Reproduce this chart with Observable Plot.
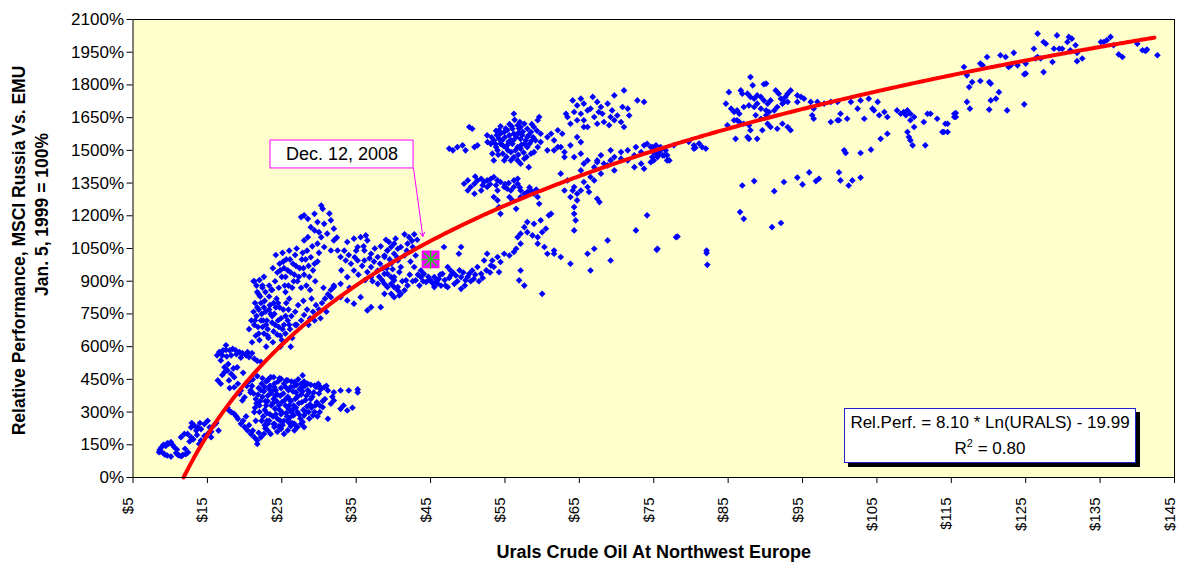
<!DOCTYPE html>
<html>
<head>
<meta charset="utf-8">
<script src="https://cdn.jsdelivr.net/npm/d3@7"></script>
<script src="https://cdn.jsdelivr.net/npm/@observablehq/plot@0.6"></script>
<style>
  html, body { margin: 0; padding: 0; background: #fff; }
  #wrap { position: relative; width: 1181px; height: 563px; font-family: "Liberation Sans", Arial, sans-serif; }
  #legend { position: absolute; left: 844px; top: 408px; width: 292px; height: 55px; box-sizing: border-box;
    background: #fff; border: 1px solid #2222cc; box-shadow: 4px 4px 0 #000; text-align: center;
    font-size: 17px; line-height: 25.5px; padding-top: 1px; color: #000; }
  #legend sup { font-size: 11px; line-height: 0; vertical-align: 7px; }
</style>
</head>
<body>
<div id="wrap"></div>
<script>
// ---- Tick values ----
const xTicks = [5, 15, 25, 35, 45, 55, 65, 75, 85, 95, 105, 115, 125, 135, 145];
const yTicks = [0, 150, 300, 450, 600, 750, 900, 1050, 1200, 1350, 1500, 1650, 1800, 1950, 2100];

// ---- Trend line (from chart's equation box) ----
const trendA = 8.10, trendB = -19.99, trendStart = 11.8, trendEnd = 142.5;

// ---- Annotation ----
const markerPoint = { x: 45, y: 1000 };
const noteText = "Dec. 12, 2008";

// ---- Scatter points: "urals$,relPerf%" pairs ----
const lowCluster = `8.5,116 8.6,127 8.8,138 9.1,150 9.6,157 9.8,155 10.1,162 10.3,150 10.55,139 10.8,112 11.2,101 11.7,104 12.1,107 9.1,110 9.3,105 9.6,101 10.1,96 11,105 8.7,120 9.4,145 10.9,128 11.5,98 12.4,115 12,132 11.45,185 11.9,200 12.8,230 13.24,238 13.7,230 14.14,222 14.6,245 15.03,260 15.5,185 12.8,185 12.34,200 15.03,200 14.14,170 13.9,154 15.5,210 15.9,240 13.5,215 12.6,165 13.1,175 14.6,190 15.3,230 16.2,250 14,250 16.5,215 12.9,250 13.6,195`;

const clusterB = `16.6,575 17.1,583 17.5,585 18,583 18.4,590 18.8,583 19.3,575 19.7,570 20.2,560 20.6,552 21.3,545 21.7,535 22.2,530 16.8,537 17.3,506 17.7,491 18.2,475 18.6,460 19.1,430 19.5,399 20,368 16.4,445 16.8,430 17.3,483 17.9,445 18.6,414 19.3,384 19.7,353 16.3,560 17,560 17.6,555 18.2,560 18.9,565 19.5,550 20.4,575 21,570 17.8,520 18.5,500 19,505 19.8,480 17,470 18,410 20.3,420 20.8,390 17.5,606`;

const clusterC = `17.9,307 18.6,292 19.1,269 19.5,246 20,231 20.4,216 20.85,200 21.3,185 21.7,170 22.2,185 22.6,200 23.1,216 24,231 24.9,223 25.8,216 26.7,216 27.1,231 27.6,246 21.7,154 23.1,246 24,246 25.8,261 26.7,246 28,231 17.7,320 18.2,300 18.9,280 19.8,260 20.6,240 21.1,215 21.9,205 22.8,225 23.5,200 24.4,210 25.3,200 26.2,235 20.2,280 21.5,260 22.7,240
20.8,400 21.2,385 21.5,360 21.9,410 22.3,430 22.6,395 22.8,350 23.1,375 23.4,420 23.6,330 23.9,360 24.2,400 24.5,440 24.7,310 25,345 25.2,385 25.5,415 25.8,370 26,330 26.3,300 26.5,395 26.8,360 27,425 27.3,340 27.6,380 27.9,310 28.2,355 28.5,400 28.8,335 29.1,370 29.4,300 29.7,345 30,385 21.4,320 22,300 22.5,280 23,295 23.3,260 23.8,280 24.1,315 24.4,270 24.9,290 25.3,260 25.6,295 26.1,275 26.6,285 27.1,300 27.5,270 28,285 28.6,300 29,320 20.6,440 21.1,450 21.7,465 22.4,455 23.2,450 23.9,460 24.7,455 25.6,445 26.3,440 27.2,450 28,440 28.9,425 29.6,415 30.2,405 22.1,350 22.9,330 23.7,395 24.3,350 24.8,375 25.9,400 26.9,320 27.7,345 28.4,325 29.3,390 22.7,415 23.5,385 24.6,330 25.4,355 26.2,350 27.4,405 28.1,420 21.6,340 30.5,350 29.8,280 26.4,250 25.1,240 23.9,245 22.3,260 27.8,255 28.7,270 24,430 26.7,420
21,420 21.8,380 22.2,400 22.9,440 23.3,405 23.8,340 24.4,380 24.9,410 25.5,330 26,360 26.6,330 27.1,370 27.8,395 28.3,375 28.9,360 29.5,330 30.1,330 21.3,300 22,330 22.7,310 23.4,290 24.2,290 24.8,260 25.7,280 26.4,310 27.3,290 28.2,300 29.2,285 23,260 24.6,235 26,250 25,300 26.9,390 27.6,410 28.7,390 22.4,370 23.1,350 24,415 25.3,430 26.2,415 24.1,375 25.9,315
30.3,407 31.2,399 32,391 32.9,399 34,399 35.2,404 35.2,390 32,353 32.9,315 33.8,307 31.6,338 30.5,322 31.2,269 30.1,300 33.3,330 34.5,320 31.8,370 30.8,360 29.9,430 31,420
23.1,445 23.5,460 24.9,452 25.8,445 26.7,437 27.8,468 27.6,430 28.5,430 29.4,422 30,422 30.7,414`;

const clusterD = `21.3,700 21.6,740 21.9,770 22.2,800 22.5,720 22.8,760 23.1,680 23.4,790 23.7,710 24,750 24.3,820 24.6,690 24.9,730 25.2,770 25.5,660 25.8,720 26.1,680 21.5,650 22,630 22.6,660 23.2,640 23.8,620 24.4,655 25,630 21.8,690 22.4,690 23,720 23.5,750 24.1,700 24.7,780 25.3,700 22.1,830 22.7,810 23.3,830 21.2,760 21.4,800 26.4,640 26.8,700 25.6,800 24.5,800 20.9,720 20.6,680 21,620 23.9,670 22.9,600 24.8,600 26.2,600 25.9,770 23.6,860 21.7,850 22.4,880 21.3,900
21.4,720 21.9,660 22.3,750 22.9,700 23.3,770 23.7,740 24.2,780 24.5,720 25.1,680 25.5,740 26,700 22.6,780 23.9,800 24.8,650 21.7,780 22.2,720 23.1,650
26.3,740 26.8,760 27.2,790 27.6,720 28,745 28.4,770 28.8,730 29.2,760 29.6,790 30,770 30.4,800 30.8,820 31.2,840 31.6,860 27,700 28.6,700 29.4,720 30.2,730 31,760 27.9,810 29,820 30.6,870 32,880 26,820 25.5,850
24.1,900 24.4,940 24.7,980 25,920 25.3,960 25.6,1000 25.9,880 26.2,940 26.5,980 26.8,1020 27.1,900 27.4,960 27.7,1000 28,930 28.3,880 28.6,970 28.9,1010 29.2,950 29.5,900 29.8,990 24.6,870 25.4,880 26.4,870 27.6,870 28.8,860 25.1,1030 26,1040 27,1050 24.2,1020 23.8,960 26.7,930 27.9,960 25.8,950 28.4,1040 29.1,1060 30,1030
24.8,950 25.5,920 26.1,1000 26.9,970 27.3,920 28.2,1000 28.7,920 29.4,980 25.2,990 26.6,900 27.8,1030
21.2,900 21.6,880 22,905 22.4,870 22.8,850 21.9,840 23.3,880 23.7,860 22.6,920
27.6,1194 28,1202 28.5,1186 29.4,1209 30.3,1247 30.5,1232 29.8,1171 30.7,1163 31.6,1179 32,1141 31.1,1118 30.3,1102 29.4,1133 28.5,1102 28,1087 29.8,1072 30.7,1057 31.6,1041 32,1087 28.9,1148 30,1125 31.4,1210 32.4,1100`;

const clusterE = `33.8,1080 34.7,1095 35.6,1102 36.3,1110 36.5,1087 35.2,1057 36.1,1041 37,1026 37.9,1011 38.8,1018 39.2,1041 39.7,1057 40.1,1072 40.6,1049 32.5,1041 32.9,1011 33.6,995 34.3,980 35.2,995 36.1,995 37,965 37.9,949 38.8,934 39.7,919 40.1,904 40.6,858 39.7,842 38.8,888 37.9,888 37,919 36.5,942 34.7,949 33.8,919 32.9,888 32,873 31.6,827 32.9,827 33.8,812 34.7,797 35.6,827 36.5,766 37,781 38.3,781 39.2,873 40.1,873 40.8,835
34,1020 35,1040 36,1060 37.5,1050 38.3,1060 39,1090 37.4,990 38.2,980 36.8,1005 35.8,970 34.8,1010 33.4,1040 39.5,1000 40.5,1010 41.8,1040 42.5,1085 38.1,920 39.1,960 37.2,900 36.2,905 35.3,930 34.1,870 33,950 41.9,880 42.6,900 43.3,930
39.4,1080 40.3,1095 41.5,1115 42.1,1102 42.8,1115 43.2,1090 39.2,1041 40.1,1026 41,1057 41.9,1072 42.6,1057 40.6,995 39.7,980 38.8,1011 41.5,1018 41,965 39.2,934 40.1,919 38.5,904 39.7,888 40.6,873 41.5,858 41,842 38.8,842 40.1,827 41.7,904 40.8,942 42.8,965 43.7,949 43,1018 42.3,990 39.9,955 41.2,900 42.2,930 38.6,960`;

const cluster2008 = `43,904 43.7,919 44.4,896 45,904 45.5,919 46.1,911 46.6,934 47.3,965 47.7,949 48.4,926 49.1,919 49.7,904 50.2,934 50.6,949 51.3,965 51.8,934 46.4,880 47.3,873 48.2,888 49.1,865 45.5,873 44.1,934 46.8,1057 49.1,1057 48.8,1026 52.6,1026 53.3,995 54,1011 54.4,988 54.9,1026 55.6,1018 56.2,1034 56.5,1049 53.5,965 54.2,942 53.1,972 52.2,995 57.1,949 56.9,904 57.6,880 60,842 44.7,920 45.3,890 45.8,900 46.3,930 46.9,905 47.5,915 48,940 48.6,900 49.4,940 50,920 50.8,910 51.5,900 43.5,880 44,900 52.5,950 53,940 47,880 49.6,880 44.8,905 45.9,890 47.8,930 48.9,950 50.4,900 51,930 52,915
56.7,1102 57.1,1118 58,1125 58.7,1110 59.4,1102 60,1125 60.5,1141 60.9,1202 61.2,1209 57.6,1148 58,1171 58.9,1163 59.8,1179 57.1,1072 59.4,1072 60.3,1057 60.7,1026 61.6,1041 64.3,1240 64.3,1209 64.5,1179 64.3,1133 64.7,1271 64.1,1316`;

const cluster2005 = `49.5,1347 50,1362 50.4,1332 50.9,1347 51.3,1362 51.8,1370 52.2,1355 52.6,1362 53.1,1370 53.5,1378 54,1362 54.4,1355 54.9,1332 55.3,1324 55.8,1316 56.2,1332 56.7,1347 57.1,1316 57.6,1301 58,1309 58.5,1316 58.9,1301 59.4,1286 59.6,1255 53.5,1286 54,1271 54.2,1240 54.4,1209 56.2,1362 56.7,1370 50,1316 50.9,1301 51.8,1316 52.6,1332 54,1316 55.6,1286 56,1271 57.1,1286 56.5,1232 51,1380 52,1340 53,1345 55,1345 57,1330 58.3,1330 59.2,1320 55.5,1350 53.8,1340
47.5,1508 48,1500 48.6,1515 49.3,1523 49.7,1500 50.2,1607 50.6,1599 50.9,1515 51.3,1523 52.6,1569 56.2,1668
52.65,1538 53.1,1530 53.5,1546 53.8,1515 54.2,1553 54.4,1576 54.9,1584 55.3,1592 55.6,1569 55.8,1546 56,1599 56.2,1576 56.5,1561 56.7,1615 57.1,1607 57.6,1622 58,1599 58.5,1584 58.9,1607 59.4,1638 59.6,1653 59.8,1576 57.1,1553 57.6,1530 58,1515 58.5,1485 58.9,1492 59.4,1515 59.8,1538 54,1500 54.7,1485 55.1,1515 55.8,1492 56.2,1469 56.7,1454 57.1,1439 57.6,1462 58.2,1423 56.7,1515 57.1,1508 55.3,1523 54.4,1530 53.3,1485 53.5,1454 54.9,1454 55.8,1454 54.2,1592 58,1561 59.1,1546 60.7,1561 61.2,1576 61.6,1546 62.1,1592 62.5,1515 62.7,1576 61.6,1500 63,1469 60.7,1500 55,1560 55.5,1540 56,1530 56.8,1580 57.3,1570 57.8,1545 58.3,1530 54.6,1545 55.9,1610 57,1630 58.6,1620 53.9,1570 56.4,1500 57.5,1490 55.2,1470 54.1,1480
53.2,1560 53.8,1590 54.4,1610 55.1,1600 55.6,1620 56.3,1640 56.9,1600 57.4,1585 58.2,1570 58.8,1560 59.3,1590 53.7,1530 54.8,1520 56.1,1545 57.2,1525 58.6,1545 55.4,1500 56.8,1480 57.9,1470`;

const cluster2006 = `64.1,1729 64.7,1706 65.2,1737 65.6,1714 66.1,1683 66.8,1745 67.4,1722 67.9,1699 68.1,1668 68.8,1714 69.2,1653 69.7,1752 70.1,1660 70.6,1630 71,1775 71.5,1691 71.7,1660 72.8,1729 73.7,1722 65.2,1668 65.6,1638 67,1653 67.4,1622 68.3,1630 69,1615 69.7,1638 71,1607 63.4,1653 63.8,1622 64.3,1676 66.1,1607 63.2,1668 64.7,1638 66.5,1691 67.6,1676 69.4,1683 70.8,1699
62.1,1515 63,1492 63.8,1523 64.3,1469 65.2,1485 65.6,1439 66.1,1454 67,1423 67.4,1446 67.9,1393 67,1362 66.1,1332 65.2,1316 64.3,1332 63.4,1362 62.5,1393 63,1316 63.8,1286 64.7,1301 65.6,1355 66.3,1309 67.4,1278 67.7,1263 66.5,1378 65.2,1408 64.7,1561 65.2,1538 65.6,1607
67.4,1454 68.3,1439 69.2,1454 69.7,1469 70.6,1462 71.5,1454 72.4,1477 73.3,1492 73.7,1523 74.1,1530 74.6,1515 75,1492 75.5,1477 75.9,1500 76.4,1477 76.8,1454 73.3,1439 72.4,1423 73.7,1416 69.7,1408 68.8,1431 71.5,1500 70.6,1492 69.2,1500 72.6,1515 67.9,1477
74.1,1202 72.6,1133 68.8,1087 69.2,995 66.1,1026 67,1049 63.8,980 66.5,949 75.5,1049 78,1102 61.6,1026 62.5,1011`;

const cluster2007 = `74.8,1515 75,1500 75.3,1485 75.5,1469 75.7,1492 75.9,1515 76.2,1477 75,1454 74.6,1446 74.8,1469 76.8,1477 77.1,1454 76.6,1500 75.3,1523 77.7,1523 79.7,1539 80.4,1523 80.6,1512 81.1,1531 81.5,1515 82,1508 80.4,1508
88,1836 88.3,1798 89.8,1803 90.1,1806 85.1,1767 86.7,1775 86.9,1760 87.6,1760 88,1745 88.5,1737 88.9,1752 89.4,1745 89.8,1729 90.3,1714 90.7,1729 91.4,1775 91.8,1760 92.1,1737 92.5,1722 92.7,1745 93,1760 93.4,1775 94.3,1752 94.8,1745 95.2,1737 84.7,1714 85.4,1691 85.8,1676 86.2,1683 86.5,1668 87.1,1699 87.8,1706 88.5,1699 88.9,1714 89.4,1691 90.1,1683 90.5,1676 91.2,1683 91.6,1699 92.3,1714 93,1722 85.8,1638 86.5,1630 87.1,1622 87.8,1615 88,1592 87.6,1561 87.8,1553 88.9,1553 89.6,1592 90.7,1607 91.6,1599 92.3,1622 93,1607 93.4,1592 90.3,1622 86.2,1638 84.9,1615 86,1553 89.4,1645 88.7,1661 90.1,1661 94.3,1722 96.1,1722 97,1722 97.9,1714 98.8,1722 99.7,1722 96.5,1691 96.3,1661 96.5,1645
86.9,1339 88.5,1359 91.2,1313 92.5,1355 94.3,1375 95,1344 95.9,1399 96.8,1359 97.2,1370 86.6,1217 87.1,1186 90.9,1148 92.1,1167 78.2,1105 75.4,1044 82.1,1041 82.1,1029 82.2,975`;

const cluster2008H = `100.1,1668 99.7,1638 101,1645 101.5,1722 102.4,1691 102.8,1729 103.3,1645 103.9,1737 104.4,1691 104.6,1683 105.1,1722 105.3,1661 106,1676 106.4,1653 106.4,1576 107.7,1683 108.2,1668 108.6,1676 108.9,1661 109.1,1683 109.5,1668 110,1653 109.5,1638 110,1607 109.1,1584 109.3,1561 109.5,1546 109.8,1523 111.3,1630 111.5,1523 111.8,1668 112.2,1668 113.1,1645 113.8,1584 114.2,1622 114.5,1584 115.4,1668 115.6,1653 105.5,1553 104.2,1503 102.8,1488 100.6,1500 100.8,1488 98.8,1630 99.9,1638
99.9,1399 100.1,1362 101.2,1339 101.7,1362 102.8,1375
114,1584 114.5,1622 115.4,1653 115.6,1671 116.7,1882 117.1,1844 117.4,1790 117.8,1813 117.1,1722 117.5,1691 118.9,1898 119.2,1890 118.9,1818 119.8,1928 120.1,1813 120.3,1806 120.3,1729 121,1737 121.4,1767 120.1,1687 121.6,1936 122.3,1928 122.5,1683 122.7,1882 123,1890 123.4,1947 123.9,1890 124.8,1849 125,1852 124.8,1711 125,1898 126.1,1966 126.3,1921 126.6,2035 126.6,1928 127,1921 127.4,1997 127.7,1989 127.4,1859 128.6,1905 128.8,1966 129.2,2027 129.5,1966 129.9,1966 130.6,1997 130.8,2020 131,1959 131.2,2012 131.7,1982 131.9,1947 131.9,1909 132.6,1921 135.1,1997 135.5,1997 135.9,2005 136.4,2020 136.8,1982 137.5,1940 138,1928 140,1989 140.7,1959 141.1,1956 141.3,1962 142.7,1936`;

const parsePairs = s => s.trim().split(/\s+/).map(p => {
  const [x, y] = p.split(",").map(Number);
  return { x, y };
});
const points = [lowCluster, clusterB, clusterC, clusterD, clusterE, cluster2008, cluster2005, cluster2006, cluster2007, cluster2008H].flatMap(parsePairs);

const trend = d3.range(trendStart, trendEnd + 0.001, 0.25).map(x => ({ x, y: 100 * (trendA * Math.log(x) + trendB) }));

// annotation box position (data coordinates)
const noteBox = { x1: 23.48, x2: 42.71, y1: 1417, y2: 1545 };
const arrowTip = { x: 43.96, y: 1105 };

const chart = Plot.plot({
  width: 1181,
  height: 563,
  marginLeft: 132.5,
  marginRight: 7,
  marginTop: 19,
  marginBottom: 86,
  x: { domain: [5, 145] },
  y: { domain: [0, 2100] },
  style: { fontFamily: "'Liberation Sans', Arial, sans-serif", background: "#fff", color: "#000", overflow: "visible" },
  marks: [
    Plot.frame({ fill: "#FFFFCC" }),
    Plot.axisY(yTicks, { tickSize: 6, tickPadding: 3, tickFormat: d => d + "%", fontSize: 17, label: null }),
    Plot.axisX(xTicks, { tickSize: 6, tickFormat: () => "", label: null }),
    Plot.text(xTicks, { x: d => d, text: d => "$" + d, frameAnchor: "bottom", rotate: -90, textAnchor: "end", dy: 20, fontSize: 15 }),
    Plot.dot(points, { x: "x", y: "y", symbol: "diamond2", r: 3, fill: "#0000FF", stroke: null }),
    Plot.line(trend, { x: "x", y: "y", stroke: "#FF0000", strokeWidth: 4 }),
    Plot.frame({ stroke: "#000", strokeWidth: 1 }),
    Plot.dot([markerPoint], { x: "x", y: "y", symbol: "square", r: 10, fill: "#FF00FF", stroke: null }),
    Plot.dot([markerPoint], { x: "x", y: "y", symbol: "times", r: 6, stroke: "#22CC22", strokeWidth: 1.5 }),
    Plot.dot([markerPoint], { x: "x", y: "y", symbol: "plus", r: 6, stroke: "#22CC22", strokeWidth: 1.5 }),
    Plot.arrow([noteBox], { x1: d => d.x2, y1: d => d.y1, x2: () => arrowTip.x, y2: () => arrowTip.y, stroke: "#FF00FF", strokeWidth: 1, headLength: 7 }),
    Plot.rect([noteBox], { x1: "x1", x2: "x2", y1: "y1", y2: "y2", fill: "#fff", stroke: "#FF00FF", strokeWidth: 1 }),
    Plot.text([noteText], { x: (noteBox.x1 + noteBox.x2) / 2, y: (noteBox.y1 + noteBox.y2) / 2, fontSize: 18 }),
    Plot.text(["Relative Performance, MSCI Russia Vs. EMU"], { frameAnchor: "left", textAnchor: "middle", lineAnchor: "middle", dx: -114, dy: 2, rotate: -90, fontWeight: "bold", fontSize: 17.5 }),
    Plot.text(["Jan. 5, 1999 = 100%"], { frameAnchor: "left", textAnchor: "middle", lineAnchor: "middle", dx: -90.5, dy: -34, rotate: -90, fontWeight: "bold", fontSize: 17.5 }),
    Plot.text(["Urals Crude Oil At Northwest Europe"], { frameAnchor: "bottom", textAnchor: "middle", lineAnchor: "middle", dy: 75, fontWeight: "bold", fontSize: 18 })
  ]
});

const wrap = document.getElementById("wrap");
wrap.appendChild(chart);
const legend = document.createElement("div");
legend.id = "legend";
legend.innerHTML = `Rel.Perf. = ${trendA.toFixed(2)} * Ln(URALS) - ${Math.abs(trendB).toFixed(2)}<br>R<sup>2</sup> = 0.80`;
wrap.appendChild(legend);
</script>
</body>
</html>
